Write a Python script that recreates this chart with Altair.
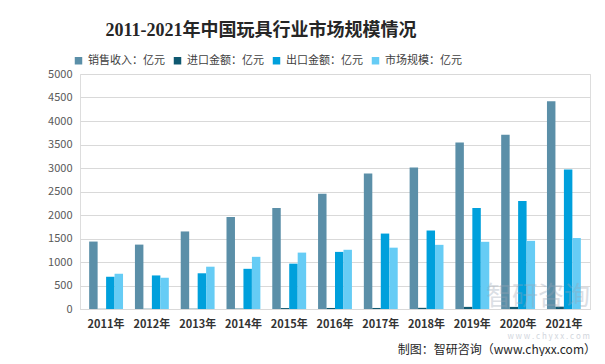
import altair as alt
import pandas as pd

years = ["2011年", "2012年", "2013年", "2014年", "2015年", "2016年",
         "2017年", "2018年", "2019年", "2020年", "2021年"]
series_names = ["销售收入：亿元", "进口金额：亿元", "出口金额：亿元", "市场规模：亿元"]
sales = [1435, 1370, 1650, 1960, 2150, 2450, 2885, 3010, 3545, 3710, 4420]
imports = [4, 5, 6, 8, 20, 22, 22, 25, 45, 45, 50]
exports = [686, 714, 760, 855, 965, 1215, 1605, 1670, 2150, 2300, 2970]
market = [750, 665, 900, 1110, 1200, 1260, 1305, 1365, 1430, 1450, 1510]
colors = ["#5B8FA8", "#0F5870", "#00A0DC", "#66CCF5"]

rows = []
for name, vals in zip(series_names, [sales, imports, exports, market]):
    for y, v in zip(years, vals):
        rows.append({"year": y, "series": name, "value": v})
df = pd.DataFrame(rows)

W, H = 510, 235
FONT = "Noto Sans CJK SC"

bars = alt.Chart(df).mark_bar().encode(
    x=alt.X("year:N", sort=years, title=None,
            scale=alt.Scale(paddingInner=0.26, paddingOuter=0.2),
            axis=alt.Axis(labelAngle=0, labelFontWeight="bold", labelColor="#333333",
                          labelFontSize=11, labelPadding=9, ticks=False,
                          domainColor="#d9d9d9", labelFont=FONT)),
    xOffset=alt.XOffset("series:N", sort=series_names),
    y=alt.Y("value:Q", title=None,
            scale=alt.Scale(domain=[0, 5000]),
            axis=alt.Axis(values=list(range(0, 5001, 500)), format="d", domain=False,
                          ticks=False, labelColor="#595959", labelFontSize=11,
                          labelPadding=8, gridColor="#d9d9d9", labelFont=FONT)),
    color=alt.Color("series:N", sort=series_names,
                    scale=alt.Scale(domain=series_names, range=colors),
                    legend=alt.Legend(title=None, orient="none", direction="horizontal",
                                      legendX=-7, legendY=-19, symbolType="square",
                                      symbolSize=56, labelFontSize=11, labelColor="#404040",
                                      columnPadding=7, labelOffset=4, labelLimit=200,
                                      labelFont=FONT, symbolStrokeWidth=0)),
)

note = pd.DataFrame({"t": ["制图：智研咨询（www.chyxx.com）"]})
source = alt.Chart(note).mark_text(align="right", baseline="middle", fontSize=12,
                                   color="#262626", font=FONT).encode(
    text="t:N", x=alt.value(W + 6), y=alt.value(H + 41))

wm1 = pd.DataFrame({"t": ["智研咨询"]})
watermark = alt.Chart(wm1).mark_text(align="right", baseline="middle", fontSize=26,
                                     color="#9aa5b5", opacity=0.35, font=FONT).encode(
    text="t:N", x=alt.value(W), y=alt.value(H - 12))
wm2 = pd.DataFrame({"t": ["w w w . c h y x x . c o m"]})
watermark2 = alt.Chart(wm2).mark_text(align="right", baseline="middle", fontSize=8,
                                      color="#9aa5b5", opacity=0.45, font=FONT).encode(
    text="t:N", x=alt.value(W), y=alt.value(H + 28))

chart = alt.layer(bars, watermark, watermark2, source).properties(
    width=W, height=H,
    title=alt.TitleParams("2011-2021年中国玩具行业市场规模情况", fontSize=18,
                          font="Liberation Serif, Noto Sans CJK SC", fontWeight="bold",
                          color="#262626", anchor="middle", dx=-74, offset=15),
    autosize=alt.AutoSizeParams(type="none"),
    padding={"left": 72, "top": 66, "right": 7, "bottom": 47},
).configure_view(stroke=None).configure(background="white")

chart.save("out.html", embed_options={"renderer": "svg", "actions": False})
